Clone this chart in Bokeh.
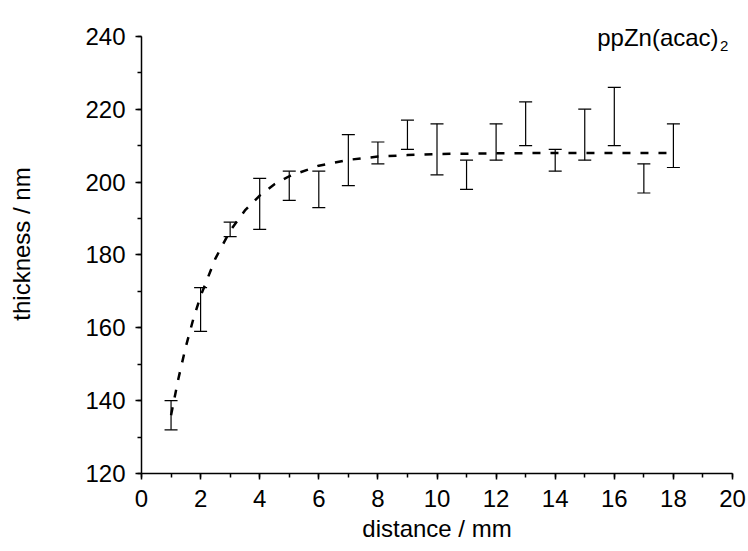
from bokeh.plotting import figure
from bokeh.models import (Range1d, SingleIntervalTicker, ColumnDataSource, Whisker,
                          TeeHead, Label)
from bokeh.embed import file_html
from bokeh.resources import INLINE

# Measured data (distance in mm, thickness range in nm)
distance = [1, 2, 3, 4, 5, 6, 7, 8, 9, 10, 11, 12, 13, 14, 15, 16, 17, 18]
thick_low = [132, 159, 185, 187, 195, 193, 199, 205, 209, 202, 198, 206, 210, 203, 206, 210, 197, 204]
thick_high = [140, 171, 189, 201, 203, 203, 213, 211, 217, 216, 206, 216, 222, 209, 220, 226, 205, 216]

# Fit curve
fit_x = [1, 1.25, 1.5, 1.75, 2, 2.5, 3, 3.5, 4, 4.5, 5, 6, 7, 8, 9, 10, 12, 14, 16, 18]
fit_y = [136.0, 146.1, 154.8, 162.3, 168.7, 179.0, 186.6, 192.2, 196.3, 199.4, 201.6,
         204.5, 206.1, 207.0, 207.4, 207.7, 207.9, 208.0, 208.0, 208.0]

FONT = "Liberation Sans"

p = figure(width=748, height=551, output_backend="svg", toolbar_location=None,
           x_range=Range1d(0, 20), y_range=Range1d(120, 246),
           min_border_left=141, min_border_right=16, min_border_top=14, min_border_bottom=78)
p.outline_line_color = None
p.xgrid.visible = False
p.ygrid.visible = False
p.background_fill_color = "white"
p.border_fill_color = "white"

p.xaxis.ticker = SingleIntervalTicker(interval=2, num_minor_ticks=2)
p.yaxis.ticker = SingleIntervalTicker(interval=20, num_minor_ticks=2)
p.yaxis.bounds = (120, 240)

for ax in (p.xaxis[0], p.yaxis[0]):
    ax.axis_line_width = 1.5
    ax.axis_line_color = "black"
    ax.major_tick_line_color = "black"
    ax.minor_tick_line_color = "black"
    ax.major_tick_line_width = 1.5
    ax.minor_tick_line_width = 1.5
    ax.major_tick_in = 0
    ax.major_tick_out = 6
    ax.minor_tick_in = 0
    ax.minor_tick_out = 4
    ax.major_label_text_font = FONT
    ax.major_label_text_font_size = "24px"
    ax.major_label_text_color = "black"
    ax.axis_label_text_font = FONT
    ax.axis_label_text_font_size = "24px"
    ax.axis_label_text_font_style = "normal"
    ax.axis_label_text_color = "black"
    ax.major_label_standoff = 10

p.xaxis.axis_label = "distance / mm"
p.yaxis.axis_label = "thickness / nm"
p.xaxis.axis_label_standoff = 5
p.yaxis.axis_label_standoff = 47

# fit curve
p.line(fit_x, fit_y, line_color="black", line_width=2.5, line_dash="8 10")

# error bars
src = ColumnDataSource(dict(x=distance, lo=thick_low, hi=thick_high))
w = Whisker(source=src, base="x", lower="lo", upper="hi", dimension="height",
            line_color="black", line_width=1.2,
            upper_head=TeeHead(size=13, line_color="black", line_width=1.2),
            lower_head=TeeHead(size=13, line_color="black", line_width=1.2))
p.add_layout(w)

# annotation ppZn(acac)2
p.add_layout(Label(x=19.53, y=239.7, text="ppZn(acac)", text_align="right",
                   text_baseline="alphabetic", text_font=FONT, text_font_size="24px",
                   text_color="black"))
p.add_layout(Label(x=19.58, y=237.4, text="2", text_align="left",
                   text_baseline="alphabetic", text_font=FONT, text_font_size="15px",
                   text_color="black"))

open("out.html", "w").write(file_html(p, INLINE))
